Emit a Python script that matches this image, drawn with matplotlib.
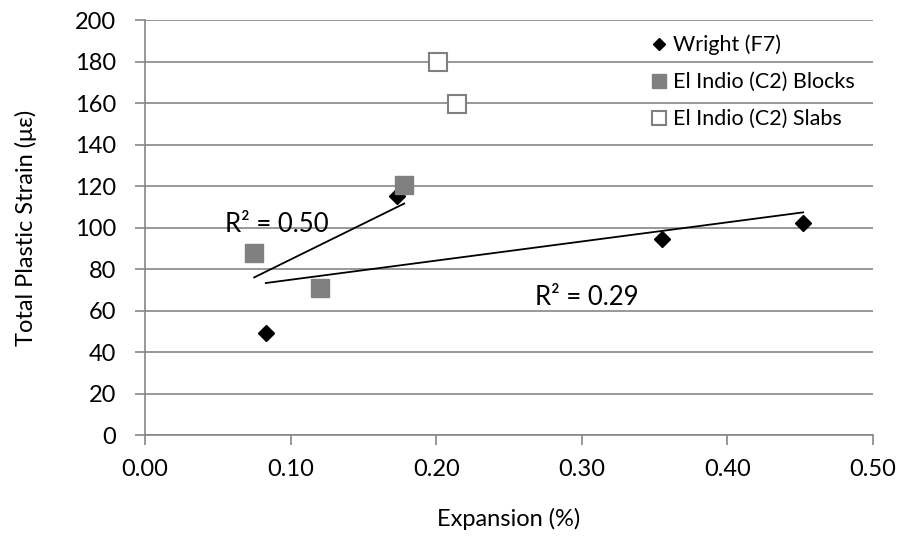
import numpy as np
import matplotlib.pyplot as plt

plt.rcParams['font.family'] = ['Lato', 'DejaVu Sans']

wright_x = [0.083, 0.173, 0.355, 0.452]
wright_y = [49, 115, 94.5, 102]
blocks_x = [0.075, 0.120, 0.178]
blocks_y = [87.5, 71, 120.5]
slabs_x = [0.201, 0.214]
slabs_y = [180, 159.5]

GRAY = '#868686'


def trend(ax, x, y):
    x = np.array(x)
    y = np.array(y)
    k, b = np.polyfit(x, y, 1)
    xs = np.array([x.min(), x.max()])
    ax.plot(xs, k * xs + b, color='black', lw=1.3, zorder=4)
    r2 = np.corrcoef(x, y)[0, 1] ** 2
    return r2


fig = plt.figure(figsize=(9.09, 5.42), dpi=100)
ax = fig.add_axes([0.1595, 0.1974, 0.8009, 0.7656])

ax.plot(wright_x, wright_y, 'D', color='black', ms=8.5, ls='none',
        label='Wright (F7)', zorder=3)
ax.plot(blocks_x, blocks_y, 's', color='#808080', ms=13.5, ls='none',
        label='El Indio (C2) Blocks', zorder=5)
ax.plot(slabs_x, slabs_y, 's', mfc='white', mec='#808080', mew=1.5, ms=12.5,
        ls='none', label='El Indio (C2) Slabs', zorder=5)

r2_w = trend(ax, wright_x, wright_y)
r2_b = trend(ax, blocks_x, blocks_y)

ax.text(0.055, 98, 'R² = %.2f' % r2_b, fontsize=18.5, zorder=6)
ax.text(0.268, 62.5, 'R² = %.2f' % r2_w, fontsize=18.5, zorder=6)

ax.set_xlim(0, 0.5)
ax.set_ylim(0, 200)
ax.set_xticks(np.arange(0, 0.51, 0.1))
ax.set_xticklabels(['%.2f' % v for v in np.arange(0, 0.51, 0.1)])
ax.set_yticks(range(0, 201, 20))
ax.grid(axis='y', color=GRAY, lw=1.2)
ax.set_axisbelow(True)

for s in ['top', 'right']:
    ax.spines[s].set_visible(False)
for s in ['left', 'bottom']:
    ax.spines[s].set_color(GRAY)
    ax.spines[s].set_linewidth(1.2)
ax.tick_params(axis='both', direction='out', length=7, color=GRAY, width=1.2,
               labelsize=17)
ax.tick_params(axis='y', pad=14)
ax.tick_params(axis='x', pad=10)

ax.set_xlabel('Expansion (%)', fontsize=17)
ax.set_ylabel('Total Plastic Strain (με)', fontsize=17)
ax.xaxis.set_label_coords(0.5, -0.175)
ax.yaxis.set_label_coords(-0.148, 0.5)

ax.legend(loc='upper left', bbox_to_anchor=(0.68, 0.985), frameon=False,
          fontsize=15.5, handletextpad=0.15, handlelength=1.0,
          labelspacing=0.78, markerscale=0.75, borderaxespad=0)

fig.savefig('out.png', dpi=100)
